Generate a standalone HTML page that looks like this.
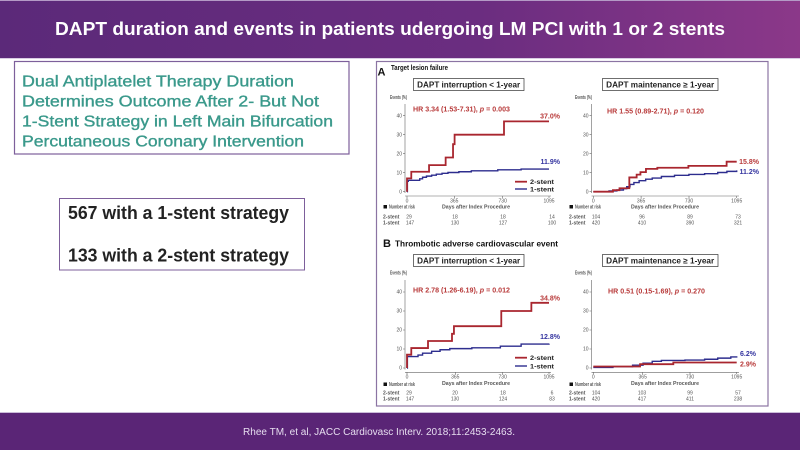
<!DOCTYPE html>
<html><head><meta charset="utf-8"><style>
html,body{margin:0;padding:0;width:800px;height:450px;overflow:hidden;background:#fff}
svg{display:block}
text{font-family:"Liberation Sans",Arial,sans-serif}
.tk{font-size:5px;fill:#555}
.bd{font-weight:bold}
.ax{stroke:#666;stroke-width:0.6;fill:none}
.rd{stroke:#a9262f;stroke-width:1.8;fill:none;vector-effect:non-scaling-stroke}
.bl{stroke:#2d2d8e;stroke-width:1.4;fill:none;vector-effect:non-scaling-stroke}
</style></head><body>
<svg width="800" height="450" viewBox="0 0 800 450" xmlns="http://www.w3.org/2000/svg">
<defs><linearGradient id="hg" x1="0" x2="1" y1="0" y2="0"><stop offset="0" stop-color="#5b2979"/><stop offset="0.6" stop-color="#6b2d80"/><stop offset="1" stop-color="#8b3889"/></linearGradient></defs>
<rect x="0" y="0" width="800" height="58" fill="url(#hg)"/>
<rect x="0" y="0" width="800" height="1" fill="#b49ac6"/>
<rect x="0" y="58" width="800" height="1" fill="#d9cce3"/>
<text x="55" y="35" font-size="18" font-weight="bold" fill="#fff" textLength="670" lengthAdjust="spacingAndGlyphs">DAPT duration and events in patients udergoing LM PCI with 1 or 2 stents</text>

<!-- left title box -->
<rect x="14.5" y="61.5" width="334.5" height="92.5" fill="none" stroke="#7d5f9b" stroke-width="1.2"/>
<g fill="#3a998b" stroke="#3a998b" stroke-width="0.35" font-size="15.5">
<text x="22" y="86.7" textLength="272" lengthAdjust="spacingAndGlyphs">Dual Antiplatelet Therapy Duration</text>
<text x="22" y="106.7" textLength="297" lengthAdjust="spacingAndGlyphs">Determines Outcome After 2- But Not</text>
<text x="22" y="126.7" textLength="311" lengthAdjust="spacingAndGlyphs">1-Stent Strategy in Left Main Bifurcation</text>
<text x="22" y="146.7" textLength="282" lengthAdjust="spacingAndGlyphs">Percutaneous Coronary Intervention</text>
</g>

<!-- numbers box -->
<rect x="59.5" y="198.5" width="245" height="71.5" fill="none" stroke="#7d5f9b" stroke-width="1"/>
<text x="68" y="219" font-size="18" font-weight="bold" fill="#222" textLength="221" lengthAdjust="spacingAndGlyphs">567 with a 1-stent strategy</text>
<text x="68" y="261.5" font-size="18" font-weight="bold" fill="#222" textLength="221" lengthAdjust="spacingAndGlyphs">133 with a 2-stent strategy</text>

<!-- footer -->
<rect x="0" y="412" width="800" height="1" fill="#cbbcd9"/>
<rect x="0" y="413" width="800" height="37" fill="#5a2576"/>
<text x="243" y="435" font-size="10" fill="#e6ddef" textLength="272" lengthAdjust="spacingAndGlyphs">Rhee TM, et al, JACC Cardiovasc Interv. 2018;11:2453-2463.</text>

<!-- chart box -->
<rect x="376.5" y="61.5" width="391.5" height="344.5" fill="#fff" stroke="#8b74a3" stroke-width="1.2"/>

<!-- ===== Panel A ===== -->
<text x="377.5" y="75.7" font-size="11" font-weight="bold" fill="#111">A</text>
<text x="391" y="70" font-size="7" font-weight="bold" fill="#111" textLength="57" lengthAdjust="spacingAndGlyphs">Target lesion failure</text>

<!-- A left -->
<rect x="413.5" y="78.5" width="110.5" height="12" fill="none" stroke="#333" stroke-width="0.7"/>
<text x="468.7" y="87.6" font-size="8" font-weight="bold" fill="#222" text-anchor="middle" textLength="103" lengthAdjust="spacingAndGlyphs">DAPT interruption &lt; 1-year</text>
<text x="390" y="99" class="tk bd" textLength="17" lengthAdjust="spacingAndGlyphs">Events (%)</text>
<path class="ax" d="M405 104V193M403 115.7H405M403 134.7H405M403 153.7H405M403 172.7H405M403 191.7H405"/>
<g class="tk" text-anchor="end"><text x="402" y="117.4">40</text><text x="402" y="136.4">30</text><text x="402" y="155.4">20</text><text x="402" y="174.4">10</text><text x="402" y="193.4">0</text></g>
<path class="ax" d="M405 196H551M407 196V198M454.3 196V198M502.7 196V198M549 196V198"/>
<g class="tk" text-anchor="middle"><text x="407" y="202.5">0</text><text x="454.3" y="202.5">365</text><text x="502.7" y="202.5">730</text><text x="549" y="202.5">1095</text></g>
<text x="476" y="208.7" class="tk bd" text-anchor="middle" textLength="68" lengthAdjust="spacingAndGlyphs">Days after Index Procedure</text>
<rect x="383.5" y="205" width="3.5" height="3.5" fill="#111"/>
<text x="389" y="208.7" class="tk bd" textLength="26" lengthAdjust="spacingAndGlyphs">Number at risk</text>
<g class="tk"><text x="383" y="218.3" class="bd">2-stent</text><text x="383" y="224.3" class="bd">1-stent</text></g>
<g class="tk" text-anchor="middle">
<text x="409" y="218.3">29</text><text x="455" y="218.3">18</text><text x="503" y="218.3">18</text><text x="552" y="218.3">14</text>
<text x="410" y="224.3">147</text><text x="455" y="224.3">130</text><text x="503" y="224.3">127</text><text x="552" y="224.3">100</text>
</g>
<text x="413" y="111.7" font-size="7" font-weight="bold" fill="#b83a3a" textLength="97" lengthAdjust="spacingAndGlyphs">HR 3.34 (1.53-7.31), <tspan font-style="italic">p</tspan> = 0.003</text>
<text x="560" y="118.3" font-size="7" font-weight="bold" fill="#b83a3a" text-anchor="end">37.0%</text>
<text x="560" y="164" font-size="7" font-weight="bold" fill="#3535a0" text-anchor="end">11.9%</text>
<line x1="515" y1="181.7" x2="527" y2="181.7" stroke="#a9262f" stroke-width="1.8"/>
<line x1="515" y1="189" x2="527" y2="189" stroke="#2d2d8e" stroke-width="1.4"/>
<text x="530" y="184" font-size="6.5" font-weight="bold" fill="#222" textLength="24" lengthAdjust="spacingAndGlyphs">2-stent</text>
<text x="530" y="191.3" font-size="6.5" font-weight="bold" fill="#222" textLength="24" lengthAdjust="spacingAndGlyphs">1-stent</text>
<g transform="translate(407,191.7) scale(0.12968,-1.9)">
<path class="bl" d="M0 0H3V5.5H10V6H98V6.8H120V7.6H150V8.2H190V8.7H226V9.2H270V9.7H316V10.1H400V10.5H496V11H700V11.5H880V11.9H1095"/>
<path class="rd" d="M0 0V7H33V10.5H170V14H298V18H355V25H367V30H748V37H1095"/>
</g>

<!-- A right -->
<rect x="602.5" y="78.5" width="115.5" height="12" fill="none" stroke="#333" stroke-width="0.7"/>
<text x="660.2" y="87.6" font-size="8" font-weight="bold" fill="#222" text-anchor="middle" textLength="108" lengthAdjust="spacingAndGlyphs">DAPT maintenance ≥ 1-year</text>
<text x="575" y="99" class="tk bd" textLength="17" lengthAdjust="spacingAndGlyphs">Events (%)</text>
<path class="ax" d="M591.5 104V193M589.5 115.7H591.5M589.5 134.7H591.5M589.5 153.7H591.5M589.5 172.7H591.5M589.5 191.7H591.5"/>
<g class="tk" text-anchor="end"><text x="588.5" y="117.4">40</text><text x="588.5" y="136.4">30</text><text x="588.5" y="155.4">20</text><text x="588.5" y="174.4">10</text><text x="588.5" y="193.4">0</text></g>
<path class="ax" d="M591.5 196H739M593.3 196V198M641.1 196V198M689 196V198M736.7 196V198"/>
<g class="tk" text-anchor="middle"><text x="593.3" y="202.5">0</text><text x="641.1" y="202.5">365</text><text x="689" y="202.5">730</text><text x="736.7" y="202.5">1095</text></g>
<text x="665" y="208.7" class="tk bd" text-anchor="middle" textLength="68" lengthAdjust="spacingAndGlyphs">Days after Index Procedure</text>
<rect x="569.5" y="205" width="3.5" height="3.5" fill="#111"/>
<text x="575" y="208.7" class="tk bd" textLength="26" lengthAdjust="spacingAndGlyphs">Number at risk</text>
<g class="tk"><text x="569" y="218.3" class="bd">2-stent</text><text x="569" y="224.3" class="bd">1-stent</text></g>
<g class="tk" text-anchor="middle">
<text x="596" y="218.3">104</text><text x="642" y="218.3">96</text><text x="690" y="218.3">89</text><text x="738" y="218.3">73</text>
<text x="596" y="224.3">420</text><text x="642" y="224.3">410</text><text x="690" y="224.3">390</text><text x="738" y="224.3">321</text>
</g>
<text x="607" y="113.7" font-size="7" font-weight="bold" fill="#b83a3a" textLength="97" lengthAdjust="spacingAndGlyphs">HR 1.55 (0.89-2.71), <tspan font-style="italic">p</tspan> = 0.120</text>
<text x="759" y="164" font-size="7" font-weight="bold" fill="#b83a3a" text-anchor="end">15.8%</text>
<text x="759" y="174" font-size="7" font-weight="bold" fill="#3535a0" text-anchor="end">11.2%</text>
<g transform="translate(593.3,191.7) scale(0.13096,-1.9)">
<path class="bl" d="M0 0H120V0.4H180V0.9H230V1.6H255V2.6H280V3.8H310V4.8H350V5.8H400V6.6H450V7.2H520V8H620V8.6H730V9.1H850V9.5H950V10.1H1020V10.7H1095V11.2"/>
<path class="rd" d="M0 0H150V0.8H200V1.8H275V7.5H331V9H360V10.3H402V12H489V12.6H726V13.6H1018V15.8H1095"/>
</g>

<!-- ===== Panel B ===== -->
<text x="383" y="247" font-size="11" font-weight="bold" fill="#111">B</text>
<text x="395" y="246.7" font-size="8.5" font-weight="bold" fill="#111" textLength="163" lengthAdjust="spacingAndGlyphs">Thrombotic adverse cardiovascular event</text>

<!-- B left -->
<rect x="413.5" y="254.5" width="110.5" height="12" fill="none" stroke="#333" stroke-width="0.7"/>
<text x="468.7" y="263.6" font-size="8" font-weight="bold" fill="#222" text-anchor="middle" textLength="103" lengthAdjust="spacingAndGlyphs">DAPT interruption &lt; 1-year</text>
<text x="390" y="274.5" class="tk bd" textLength="17" lengthAdjust="spacingAndGlyphs">Events (%)</text>
<path class="ax" d="M405 280V369.5M403 292H405M403 311H405M403 330H405M403 349H405M403 368H405"/>
<g class="tk" text-anchor="end"><text x="402" y="293.7">40</text><text x="402" y="312.7">30</text><text x="402" y="331.7">20</text><text x="402" y="350.7">10</text><text x="402" y="369.7">0</text></g>
<path class="ax" d="M405 372.3H551M407 372.3V374.3M455.3 372.3V374.3M502.7 372.3V374.3M549 372.3V374.3"/>
<g class="tk" text-anchor="middle"><text x="407" y="378.5">0</text><text x="455.3" y="378.5">365</text><text x="502.7" y="378.5">730</text><text x="549" y="378.5">1095</text></g>
<text x="476" y="385" class="tk bd" text-anchor="middle" textLength="68" lengthAdjust="spacingAndGlyphs">Days after Index Procedure</text>
<rect x="383.5" y="382.5" width="3.5" height="3.5" fill="#111"/>
<text x="389" y="386" class="tk bd" textLength="26" lengthAdjust="spacingAndGlyphs">Number at risk</text>
<g class="tk"><text x="383" y="394.3" class="bd">2-stent</text><text x="383" y="400.3" class="bd">1-stent</text></g>
<g class="tk" text-anchor="middle">
<text x="409" y="394.3">29</text><text x="455" y="394.3">20</text><text x="503" y="394.3">18</text><text x="552" y="394.3">6</text>
<text x="410" y="400.3">147</text><text x="455" y="400.3">130</text><text x="503" y="400.3">124</text><text x="552" y="400.3">83</text>
</g>
<text x="413" y="292.7" font-size="7" font-weight="bold" fill="#b83a3a" textLength="97" lengthAdjust="spacingAndGlyphs">HR 2.78 (1.26-6.19), <tspan font-style="italic">p</tspan> = 0.012</text>
<text x="560" y="300.3" font-size="7" font-weight="bold" fill="#b83a3a" text-anchor="end">34.8%</text>
<text x="560" y="339" font-size="7" font-weight="bold" fill="#3535a0" text-anchor="end">12.8%</text>
<line x1="515" y1="357.7" x2="527" y2="357.7" stroke="#a9262f" stroke-width="1.8"/>
<line x1="515" y1="366" x2="527" y2="366" stroke="#2d2d8e" stroke-width="1.4"/>
<text x="530" y="360" font-size="6.5" font-weight="bold" fill="#222" textLength="24" lengthAdjust="spacingAndGlyphs">2-stent</text>
<text x="530" y="368.3" font-size="6.5" font-weight="bold" fill="#222" textLength="24" lengthAdjust="spacingAndGlyphs">1-stent</text>
<g transform="translate(407,368) scale(0.12968,-1.9)">
<path class="bl" d="M0 0H3V6H85V6.8H120V7.8H190V8.8H255V9.6H330V10.2H500V10.6H720V11.5H880V12.6H1095V12.8"/>
<path class="rd" d="M0 0V7H33V10.5H162V14.2H347V18H362V22H727V30H959V34.3H1095"/>
</g>

<!-- B right -->
<rect x="602.5" y="254.5" width="115.5" height="12" fill="none" stroke="#333" stroke-width="0.7"/>
<text x="660.2" y="263.6" font-size="8" font-weight="bold" fill="#222" text-anchor="middle" textLength="108" lengthAdjust="spacingAndGlyphs">DAPT maintenance ≥ 1-year</text>
<text x="575" y="274.5" class="tk bd" textLength="17" lengthAdjust="spacingAndGlyphs">Events (%)</text>
<path class="ax" d="M591.5 280V369.5M589.5 292H591.5M589.5 311H591.5M589.5 330H591.5M589.5 349H591.5M589.5 368H591.5"/>
<g class="tk" text-anchor="end"><text x="588.5" y="293.7">40</text><text x="588.5" y="312.7">30</text><text x="588.5" y="331.7">20</text><text x="588.5" y="350.7">10</text><text x="588.5" y="369.7">0</text></g>
<path class="ax" d="M591.5 372.3H739M593.3 372.3V374.3M642.7 372.3V374.3M690 372.3V374.3M736.7 372.3V374.3"/>
<g class="tk" text-anchor="middle"><text x="593.3" y="378.5">0</text><text x="642.7" y="378.5">365</text><text x="690" y="378.5">730</text><text x="736.7" y="378.5">1095</text></g>
<text x="665" y="385" class="tk bd" text-anchor="middle" textLength="68" lengthAdjust="spacingAndGlyphs">Days after Index Procedure</text>
<rect x="569.5" y="382.5" width="3.5" height="3.5" fill="#111"/>
<text x="575" y="386" class="tk bd" textLength="26" lengthAdjust="spacingAndGlyphs">Number at risk</text>
<g class="tk"><text x="569" y="394.3" class="bd">2-stent</text><text x="569" y="400.3" class="bd">1-stent</text></g>
<g class="tk" text-anchor="middle">
<text x="596" y="394.3">104</text><text x="642" y="394.3">103</text><text x="690" y="394.3">99</text><text x="738" y="394.3">57</text>
<text x="596" y="400.3">420</text><text x="642" y="400.3">417</text><text x="690" y="400.3">411</text><text x="738" y="400.3">238</text>
</g>
<text x="608" y="293.3" font-size="7" font-weight="bold" fill="#b83a3a" textLength="97" lengthAdjust="spacingAndGlyphs">HR 0.51 (0.15-1.69), <tspan font-style="italic">p</tspan> = 0.270</text>
<text x="756" y="356" font-size="7" font-weight="bold" fill="#3535a0" text-anchor="end">6.2%</text>
<text x="756" y="366.3" font-size="7" font-weight="bold" fill="#b83a3a" text-anchor="end">2.9%</text>
<g transform="translate(593.3,368) scale(0.13096,-1.9)">
<path class="bl" d="M0 0.3H150V0.7H300V1.5H380V2.5H450V3.5H520V4H700V4.2H850V4.6H950V5.2H1050V5.8H1095V6.2"/>
<path class="rd" d="M0 0.8H357V2H611V2.9H1095"/>
</g>
</svg>
</body></html>
